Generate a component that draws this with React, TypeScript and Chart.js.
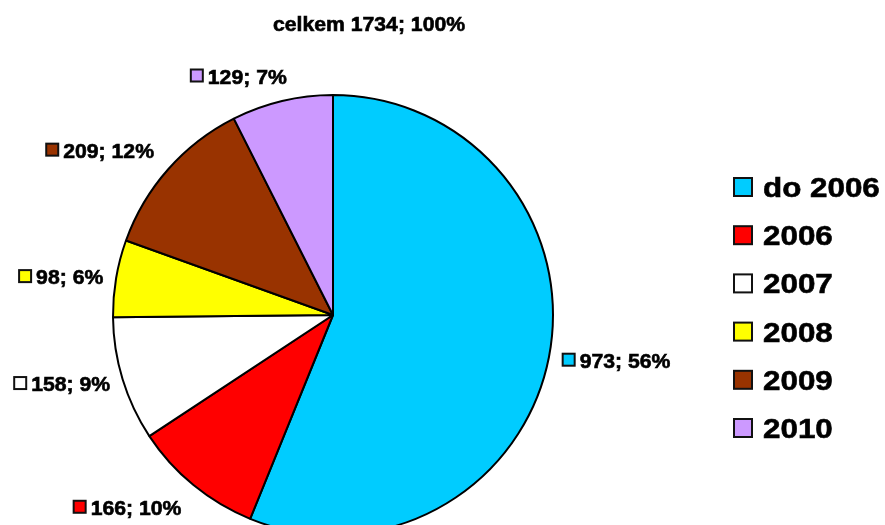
import React, { useEffect, useRef } from 'react';
import { Chart, registerables } from 'chart.js';

Chart.register(...registerables);

const categories = ['do 2006', '2006', '2007', '2008', '2009', '2010'];
const counts = [973, 166, 158, 98, 209, 129];
const colors = ['#00CCFF', '#FF0000', '#FFFFFF', '#FFFF00', '#993300', '#CC99FF'];
const totalCount = 1734;
const titleText = `celkem ${totalCount}; 100%`;

const FONT = "'Liberation Sans', Arial, sans-serif";

function drawText(ctx: CanvasRenderingContext2D, text: string, x: number, y: number, size: number, sx: number, align: CanvasTextAlign) {
  ctx.save();
  ctx.translate(x, y);
  ctx.scale(sx, 1);
  ctx.font = `bold ${size}px ${FONT}`;
  ctx.textAlign = align;
  ctx.textBaseline = 'alphabetic';
  ctx.fillStyle = '#000';
  ctx.strokeStyle = '#000';
  ctx.lineWidth = 0.6;
  ctx.fillText(text, 0, 0);
  ctx.strokeText(text, 0, 0);
  ctx.restore();
}

function textWidth(ctx: CanvasRenderingContext2D, text: string, size: number, sx: number) {
  ctx.save();
  ctx.font = `bold ${size}px ${FONT}`;
  const w = ctx.measureText(text).width * sx;
  ctx.restore();
  return w;
}

function drawKey(ctx: CanvasRenderingContext2D, x: number, y: number, size: number, color: string) {
  ctx.save();
  ctx.fillStyle = '#111';
  ctx.fillRect(x, y, size, size);
  ctx.fillStyle = color;
  ctx.fillRect(x + 2, y + 2, size - 4, size - 4);
  ctx.restore();
}

const clamp = (v: number, a: number, b: number) => Math.max(a, Math.min(b, v));

const LABEL_SIZE = 20;
const LABEL_SX = 1.06;
const LEGEND_SIZE = 28;
const LEGEND_SX = 1.12;

const textPlugin = {
  id: 'textPlugin',
  afterDraw(chart: any) {
    const ctx: CanvasRenderingContext2D = chart.ctx;
    const sum = counts.reduce((a, b) => a + b, 0);
    // title
    drawText(ctx, titleText, 369, 31, LABEL_SIZE, LABEL_SX, 'center');

    // data labels
    const meta = chart.getDatasetMeta(0);
    meta.data.forEach((arc: any, i: number) => {
      const mid = (arc.startAngle + arc.endAngle) / 2;
      const dx = Math.cos(mid);
      const dy = Math.sin(mid);
      const label = `${counts[i]}; ${Math.round((counts[i] / sum) * 100)}%`;
      const keySize = 14;
      const gap = 4;
      const w = keySize + gap + textWidth(ctx, label, LABEL_SIZE, LABEL_SX);
      const h = 14;
      const syMag = clamp((Math.abs(dy) - 0.35) / 0.25, 0, 1);
      const D = arc.outerRadius + 13 + 6 * syMag;
      const px = arc.x + dx * D;
      const py = arc.y + dy * D;
      const cx = px + (w / 2) * clamp(dx * 3.5, -1, 1);
      const cy = py + (h / 2) * Math.sign(dy) * syMag;
      const left = cx - w / 2;
      const bottom = cy + h / 2;
      drawKey(ctx, left, bottom - keySize, keySize, colors[i]);
      drawText(ctx, label, left + keySize + gap, bottom + 1, LABEL_SIZE, LABEL_SX, 'left');
    });

    // legend
    const lx = 733;
    const ly = 177;
    const step = 48.2;
    categories.forEach((c, i) => {
      const top = ly + i * step;
      drawKey(ctx, lx, top, 20, colors[i]);
      drawText(ctx, c, lx + 30, top + 20, LEGEND_SIZE, LEGEND_SX, 'left');
    });
  },
};

export default function App() {
  const ref = useRef<HTMLCanvasElement | null>(null);
  useEffect(() => {
    if (!ref.current) return;
    const chart = new Chart(ref.current, {
      type: 'pie',
      data: {
        labels: categories,
        datasets: [
          {
            data: counts,
            backgroundColor: colors,
            borderColor: '#000',
            borderWidth: 2,
          },
        ],
      },
      options: {
        responsive: false,
        animation: false,
        devicePixelRatio: 1,
        events: [],
        radius: 220,
        layout: { padding: { left: 0, right: 219, top: 0, bottom: 0 } },
        plugins: {
          legend: { display: false },
          title: { display: false },
          tooltip: { enabled: false },
        },
      } as any,
      plugins: [textPlugin],
    });
    return () => chart.destroy();
  }, []);
  return (
    <div style={{ position: 'fixed', left: 0, top: 0, width: 885, height: 525, overflow: 'hidden', background: '#fff' }}>
      <canvas ref={ref} width={885} height={630} style={{ display: 'block', width: 885, height: 630 }} />
    </div>
  );
}
